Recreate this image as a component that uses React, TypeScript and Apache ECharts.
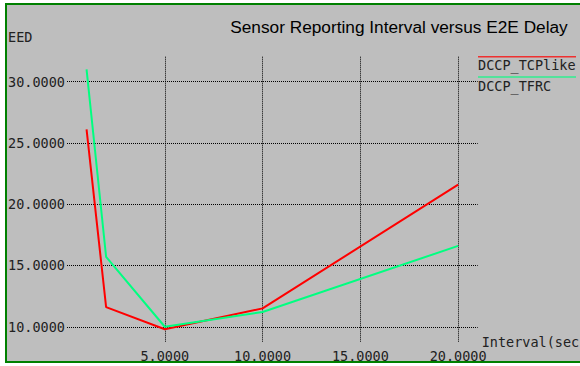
import React, { useEffect, useRef } from "react";
import * as echarts from "echarts";

const titleText = "Sensor Reporting Interval versus E2E Delay";
const xName = "Interval(sec";
const yName = "EED";
const intervals = [1, 2, 5, 10, 20];
const seriesNames = ["DCCP_TCPlike", "DCCP_TFRC"];
const seriesColors = ["#ff0000", "#00ff80"];
const tcplikeDelay = [26.1, 11.6, 9.8, 11.5, 21.6];
const tfrcDelay = [31.0, 15.7, 10.0, 11.2, 16.6];
const seriesValues = [tcplikeDelay, tfrcDelay];

const MONO = "'DejaVu Sans Mono', 'Liberation Mono', monospace";

export default function App() {
  const ref = useRef<HTMLDivElement>(null);
  useEffect(() => {
    document.body.style.margin = "0";
    if (!ref.current) return;
    const chart = echarts.init(ref.current, null, { renderer: "svg" });
    const legendGraphics: any[] = [];
    seriesNames.forEach((name, i) => {
      const y0 = 56.7 + i * 20.3;
      legendGraphics.push({
        type: "line",
        shape: { x1: 478, y1: y0, x2: 576, y2: y0 },
        style: { stroke: seriesColors[i], lineWidth: 1.5, opacity: 0.75 },
        z: 10,
      });
      legendGraphics.push({
        type: "text",
        x: 478,
        y: y0 + 8.5,
        style: {
          text: name,
          font: `13.5px ${MONO}`,
          fill: "#222",
          verticalAlign: "middle",
          align: "left",
        },
        z: 10,
      });
    });
    chart.setOption({
      animation: false,
      backgroundColor: "transparent",
      title: {
        text: titleText,
        left: 394,
        top: 13,
        textAlign: "center",
        textStyle: {
          fontFamily: "'Liberation Sans', Arial, sans-serif",
          fontSize: 17.25,
          fontWeight: "normal",
          color: "#000",
        },
      },
      grid: {
        left: 67,
        top: 56.7,
        right: 102.3,
        bottom: 24.3,
        containLabel: false,
        outerBoundsMode: "none",
      },
      xAxis: {
        type: "value",
        min: 0,
        max: 21,
        interval: 5,
        name: xName,
        nameLocation: "end",
        nameGap: 4,
        nameTextStyle: { fontFamily: MONO, fontSize: 13.5, color: "#222" },
        axisLine: { show: false },
        axisTick: { show: false },
        axisLabel: {
          showMinLabel: false,
          showMaxLabel: false,
          margin: 7,
          fontFamily: MONO,
          fontSize: 13.5,
          color: "#222",
          formatter: (v: number) => v.toFixed(4),
        },
        splitLine: {
          show: true,
          showMinLine: false,
          showMaxLine: false,
          lineStyle: { color: "#000", type: "dotted", width: 1 },
        },
      },
      yAxis: {
        type: "value",
        min: 8.78,
        max: 32.04,
        splitNumber: 5,
        minInterval: 5,
        maxInterval: 5,
        axisLine: { show: false },
        axisTick: { show: false },
        axisLabel: {
          showMinLabel: false,
          showMaxLabel: false,
          margin: 2,
          fontFamily: MONO,
          fontSize: 13.5,
          color: "#222",
          formatter: (v: number) => v.toFixed(4),
        },
        splitLine: {
          show: true,
          showMinLine: false,
          showMaxLine: false,
          lineStyle: { color: "#000", type: "dotted", width: 1 },
        },
      },
      graphic: [
        {
          type: "text",
          x: 8,
          y: 37,
          style: {
            text: yName,
            font: `13.5px ${MONO}`,
            fill: "#222",
            verticalAlign: "middle",
          },
        },
        ...legendGraphics,
      ],
      series: seriesNames.map((name, i) => ({
        name,
        type: "line",
        data: intervals.map((x, j) => [x, seriesValues[i][j]]),
        symbol: "none",
        lineStyle: { color: seriesColors[i], width: 2 },
        itemStyle: { color: seriesColors[i] },
      })),
    });
    return () => chart.dispose();
  }, []);
  return (
    <div style={{ position: "fixed", left: 0, top: 0, width: 580, height: 366, background: "#fff", overflow: "hidden" }}>
      <div
        style={{
          position: "absolute",
          left: 5,
          top: 3,
          width: 600,
          height: 356,
          border: "2px solid #008000",
          background: "#bebebe",
        }}
      />
      <div ref={ref} style={{ position: "absolute", left: 0, top: 0, width: 580, height: 366 }} />
    </div>
  );
}
